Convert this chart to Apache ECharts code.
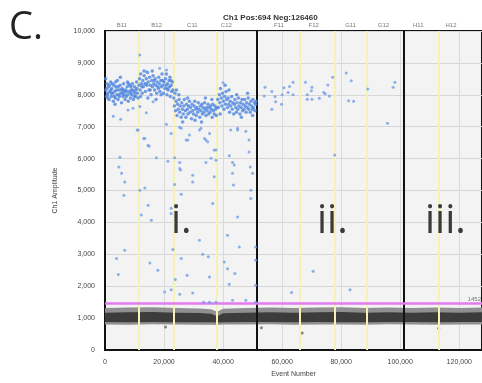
<!DOCTYPE html>
<html>
<head>
<meta charset="utf-8">
<script src="https://cdn.jsdelivr.net/npm/echarts@6/dist/echarts.min.js"></script>
<style>
  html, body { margin: 0; padding: 0; background: #fff; }
  #chart { width: 482px; height: 383px; }
</style>
</head>
<body>
<div id="chart"></div>
<script>
// top well labels
var wellNames = ['B11', 'B12', 'C11', 'C12', 'F11', 'F12', 'G11', 'G12', 'H11', 'H12'];
var wellCenters = [5700, 17500, 29600, 41100, 58900, 70700, 83200, 94300, 106100, 117200];
// yellow well boundaries and black sample separators
var wellBounds = [11400, 23200, 38000, 65900, 77800, 88600, 113000];
var sampleBounds = [51500, 101300];
var threshold = 1452;

// negative droplet band (envelope)
var negX = [0, 8000, 16000, 24000, 32000, 36000, 38000, 40000, 48000, 56000, 64000, 72000, 80000, 88000, 96000, 104000, 112000, 120000, 128000];
var negLow = [800, 790, 810, 800, 790, 790, 780, 800, 800, 810, 790, 800, 800, 790, 810, 800, 790, 800, 800];
var negCoreLow = [880, 870, 880, 870, 870, 870, 860, 870, 880, 880, 870, 880, 870, 870, 880, 880, 870, 880, 880];
var negCoreHigh = [1170, 1180, 1190, 1170, 1160, 1140, 1060, 1150, 1170, 1180, 1170, 1180, 1190, 1170, 1180, 1170, 1180, 1170, 1180];
var negHigh = [1320, 1330, 1340, 1320, 1300, 1280, 1200, 1290, 1320, 1330, 1320, 1330, 1340, 1320, 1330, 1320, 1330, 1320, 1330];
var negOutliers = [[66800, 530], [113000, 680], [20500, 720], [53000, 700]];

// positive droplets - dense cluster, sample i
var posCluster = [
  [300,8150],[500,7950],[700,8350],[900,8050],[1200,8250],[1400,7850],[1600,8100],[1900,8400],[2100,7950],[2300,8200],
  [2600,8050],[2800,7800],[3000,8300],[3300,8100],[3500,7900],[3700,8250],[4000,8000],[4200,8450],[4400,7850],[4700,8150],
  [4900,7950],[5100,8300],[5400,8050],[5600,7750],[5800,8200],[6100,7950],[6300,8350],[6500,8100],[6800,7850],[7000,8150],
  [7200,7950],[7500,8250],[7700,8000],[7900,7800],[8200,8100],[8400,8300],[8600,7900],[8900,8150],[9100,8000],[9300,8350],
  [9600,7850],[9800,8100],[10000,8250],[10300,7950],[10500,8150],[10700,8400],[11000,8050],[11200,7900],
  [600,8200],[1500,8300],[2500,8350],[3400,7700],[4500,8250],[5500,8150],[6600,8000],[7600,8400],[8700,8050],[9900,7950],
  [10800,8200],[1000,7900],[2000,8150],[3900,8150],[6200,8150],[8000,8350],[200,8500],[5200,8550],
  [800,8000],[2200,8050],[3100,7950],[4600,8000],[5900,8050],[7300,8100],[8800,8250],[10200,8050],[3600,8400],[9400,8150],
  [11500,8300],[11700,8500],[11900,8150],[12100,8650],[12300,8350],[12600,8050],[12800,8450],[13000,8250],[13300,8600],[13500,8350],
  [13700,8100],[14000,8500],[14200,8300],[14400,8700],[14700,8400],[14900,8150],[15100,8550],[15400,8300],[15600,8000],[15800,8450],
  [16100,8250],[16300,8600],[16500,8350],[16800,8150],[17000,8500],[17200,8300],[17500,8050],[17700,8400],[17900,8250],[18200,8550],
  [18400,8350],[18600,8100],[18900,8450],[19100,8250],[19300,8650],[19600,8300],[19800,8050],[20000,8400],[20300,8200],[20500,8500],
  [20700,8300],[21000,8000],[21200,8350],[21400,8150],[21700,8450],[21900,8250],[22100,7950],[22400,8300],[22600,8100],[22800,8400],
  [23000,8150],[12000,7950],[13200,8750],[14500,7900],[16000,8750],[17300,7850],[19000,8000],[20800,8650],[22000,8550],
  [12500,8250],[13900,8350],[15300,8150],[16700,8450],[18100,8200],[19500,8450],[21100,8200],[22300,8450],
  [23300,7900],[23500,7650],[23700,8050],[23900,7500],[24100,7800],[24400,7350],[24600,7700],[24800,7550],[25100,7850],[25300,7450],
  [25500,7650],[25800,7300],[26000,7750],[26200,7550],[26500,7400],[26700,7650],[26900,7850],[27200,7500],[27400,7300],[27600,7700],
  [27900,7550],[28100,7400],[28300,7650],[28600,7800],[28800,7450],[29000,7600],[29300,7250],[29500,7700],[29700,7500],[30000,7400],
  [30200,7650],[30400,7800],[30700,7550],[30900,7350],[31100,7600],[31400,7450],[31600,7750],[31800,7550],[32100,7300],[32300,7650],
  [32500,7500],[32800,7700],[33000,7400],[33200,7600],[33500,7450],[33700,7750],[33900,7550],[34200,7350],[34400,7600],[34600,7500],
  [34900,7700],[35100,7400],[35300,7600],[35600,7450],[35800,7650],[36000,7550],[36300,7300],[36500,7700],[36700,7500],[37000,7400],
  [37200,7650],[37400,7550],[37700,7350],[37900,7600],[24200,8150],[25000,8000],[26300,7150],[28000,7900],[30500,7200],[32700,7150],
  [34000,7900],[36200,7850],
  [38200,7850],[38400,7600],[38700,8000],[38900,7750],[39100,8200],[39400,7900],[39600,7650],[39800,8050],[40100,7800],[40300,7550],
  [40500,7950],[40800,7700],[41000,8100],[41200,7850],[41500,7600],[41700,7900],[41900,7700],[42200,7450],[42400,7800],[42600,7650],
  [42900,7950],[43100,7550],[43300,7750],[43600,7400],[43800,7700],[44000,7850],[44300,7600],[44500,7450],[44700,7750],[45000,7550],
  [45200,7900],[45400,7650],[45700,7400],[45900,7750],[46100,7600],[46400,7850],[46600,7500],[46800,7700],[47100,7550],[47300,7850],
  [47500,7650],[47800,7450],[48000,7750],[48200,7600],[48500,7900],[48700,7550],[48900,7700],[49200,7450],[49400,7800],[49600,7650],
  [49900,7550],[50100,7850],[50300,7600],[50600,7750],[50800,7500],[51000,7700],[51200,7800],[39000,7400],[40700,8300],[42000,8150],
  [44600,8000],[46200,7300],[48300,8050],[50000,7350]
];

// positive droplets - scattered (rain), all samples
var posRain = [
  [11800,9250],[14000,8730],[18500,8830],[20800,8780],[40000,8380],
  [2800,7330],[5300,7230],[7800,7520],[9500,7580],[11800,7630],[14000,7440],[16300,7780],
  [11200,6900],[13100,6630],[14900,6390],[20800,7080],[22400,6790],[25300,6980],[28000,6580],[32000,6900],
  [35400,6790],[34200,6580],[37600,6270],[42600,6900],[44900,6900],[48800,6580],[43800,5800],[50000,5540],[25300,5690],
  [5050,6040],[4700,5740],[5600,5540],[6700,5270],[6400,4850],[13500,6630],[14600,6420],[17400,6030],[21300,5920],
  [23600,6030],[25300,5880],[25600,5640],[29700,5480],[29700,5270],[23600,5190],[25800,4880],[13500,5080],[11800,5010],
  [14600,4540],[22400,4440],[27500,6580],[28600,6740],[33700,6630],[34800,6530],[37000,6270],[34200,5880],[35900,6010],
  [37600,5950],[37000,5430],[36500,4590],[42100,6090],[43200,5880],[43200,5540],[43500,5170],[48800,6210],[49200,5740],
  [49400,5010],[49400,4750],[44900,6950],[47700,6860],[32500,6950],[25800,6950],[10900,6900],
  [12300,4230],[15700,4070],[22400,4280],[6700,3130],[3900,2870],[4500,2370],[15200,2730],[17900,2500],[23000,3150],
  [25800,2870],[23800,2210],[22400,1890],[20200,1820],[25300,1750],[27800,2340],[29700,1790],[33100,3000],[35000,2920],
  [35400,2290],[32000,3440],[41500,3600],[45500,3230],[40400,2760],[41500,2550],[44000,2400],[42100,2060],[44900,4170],
  [51000,3230],[51000,2810],[33400,1500],[35400,1500],[37600,1500],[43200,1560],[47700,1560],[51000,1500],[51000,2030],
  [54200,8240],[56500,8100],[53900,7960],[56500,7550],[57600,7940],[57800,7780],[60000,8000],[59800,7700],[60600,8220],
  [62000,8070],[62500,8260],[63700,8390],[63700,8000],[67900,8390],[68500,8000],[68500,7860],[70100,8240],[70100,7860],
  [69900,8130],[72600,7890],[74100,8070],[74600,8030],[75500,8310],[76000,7960],[77100,8550],[77800,6110],[81700,8680],
  [83400,8440],[82500,7810],[84200,7800],[89000,8180],[95700,7110],[98200,8390],[97600,8240],
  [63200,1800],[70500,2470],[83000,1890]
];

var chart = echarts.init(document.getElementById('chart'));

var xMin = 0, xMax = 127700;

// band polygon between two envelope arrays, placed through the axes
function bandSeries(lower, upper, color, name) {
  return {
    name: name,
    type: 'custom',
    silent: true,
    data: [0],
    renderItem: function(params, api) {
      var pts = [];
      for (var i = 0; i < negX.length; i++) pts.push(api.coord([negX[i], upper[i]]));
      for (var j = negX.length - 1; j >= 0; j--) pts.push(api.coord([negX[j], lower[j]]));
      return {
        type: 'polygon',
        shape: { points: pts },
        style: { fill: color }
      };
    },
    clip: true,
    z: 2
  };
}

var option = {
  animation: false,
  backgroundColor: '#ffffff',
  title: {
    text: 'Ch1 Pos:694 Neg:126460',
    left: 218,
    top: 9,
    textStyle: { fontSize: 8, fontWeight: 'bold', color: '#333', fontFamily: 'Liberation Sans' }
  },
  grid: {
    left: 105, right: -3, top: 31, bottom: 33,
    show: true,
    backgroundColor: '#f3f3f3',
    borderColor: '#111',
    borderWidth: 2
  },
  graphic: [
    { type: 'text', left: 9, top: 9, style: { text: 'C.', font: '38px "Open Sans"', fill: '#222' } },
    { type: 'text', left: 171, top: 202, z: 10, style: { text: 'i.', font: '40px "Open Sans"', fill: '#3a3a3a' } },
    { type: 'text', left: 317, top: 202, z: 10, style: { text: 'ii.', font: '40px "Open Sans"', fill: '#3a3a3a' } },
    { type: 'text', left: 425, top: 202, z: 10, style: { text: 'iii.', font: '40px "Open Sans"', fill: '#3a3a3a' } }
  ],
  xAxis: {
    type: 'value',
    min: xMin, max: xMax, interval: 20000,
    name: 'Event Number',
    nameLocation: 'middle',
    nameGap: 20,
    nameTextStyle: { fontSize: 7, color: '#444', fontFamily: 'Liberation Sans' },
    axisLine: { show: true, lineStyle: { color: '#111', width: 2 } },
    axisTick: { show: false },
    axisLabel: { fontSize: 7, color: '#444', margin: 9, showMaxLabel: false, fontFamily: 'Liberation Sans' },
    splitLine: { show: true, lineStyle: { color: '#dadada', width: 1 } }
  },
  yAxis: {
    type: 'value',
    min: 0, max: 10000, interval: 1000,
    name: 'Ch1 Amplitude',
    nameLocation: 'middle',
    nameGap: 46,
    nameTextStyle: { fontSize: 7, color: '#444', fontFamily: 'Liberation Sans' },
    axisLine: { show: true, lineStyle: { color: '#111', width: 2 } },
    axisTick: { show: false },
    axisLabel: { fontSize: 7, color: '#444', margin: 10, fontFamily: 'Liberation Sans' },
    splitLine: { show: true, lineStyle: { color: '#d6d6d6', width: 1 } }
  },
  series: [
    {
      name: 'bounds',
      type: 'scatter',
      data: [],
      silent: true,
      markLine: {
        symbol: 'none',
        silent: true,
        label: { show: false },
        data: wellBounds.map(function(x) {
          return { xAxis: x, lineStyle: { color: '#f6f1b4', width: 2, type: 'solid' } };
        }).concat(sampleBounds.map(function(x) {
          return { xAxis: x, lineStyle: { color: '#111', width: 2, type: 'solid' } };
        }))
      },
      z: 1
    },
    bandSeries(negLow, negHigh, '#8f8f8f', 'negFringe'),
    bandSeries(negCoreLow, negCoreHigh, '#3c3c3c', 'negCore'),
    {
      name: 'negOut',
      type: 'scatter',
      symbolSize: 3,
      itemStyle: { color: '#666' },
      data: negOutliers,
      z: 3
    },
    {
      name: 'threshold',
      type: 'scatter',
      data: [],
      markLine: {
        symbol: 'none',
        silent: true,
        data: [{ yAxis: threshold }],
        lineStyle: { color: '#e47af0', width: 2.5, type: 'solid' },
        label: { show: true, position: 'insideEndTop', formatter: '1452', fontSize: 6, color: '#777', distance: 1 }
      },
      z: 4
    },
    {
      name: 'posCluster',
      type: 'scatter',
      symbolSize: 3.5,
      itemStyle: { color: '#4f86de', opacity: 0.8 },
      data: posCluster,
      z: 5
    },
    {
      name: 'posRain',
      type: 'scatter',
      symbolSize: 3,
      itemStyle: { color: '#6f9de6', opacity: 0.8 },
      data: posRain,
      z: 5
    },
    {
      name: 'wells',
      type: 'scatter',
      symbolSize: 0,
      clip: false,
      silent: true,
      data: wellCenters.map(function(x) { return [x, 10000]; }),
      label: {
        show: true,
        position: 'top',
        distance: 3,
        fontSize: 6,
        color: '#555',
        fontFamily: 'Liberation Sans',
        formatter: function(p) { return wellNames[p.dataIndex]; }
      },
      z: 6
    }
  ]
};

chart.setOption(option);
</script>
</body>
</html>
